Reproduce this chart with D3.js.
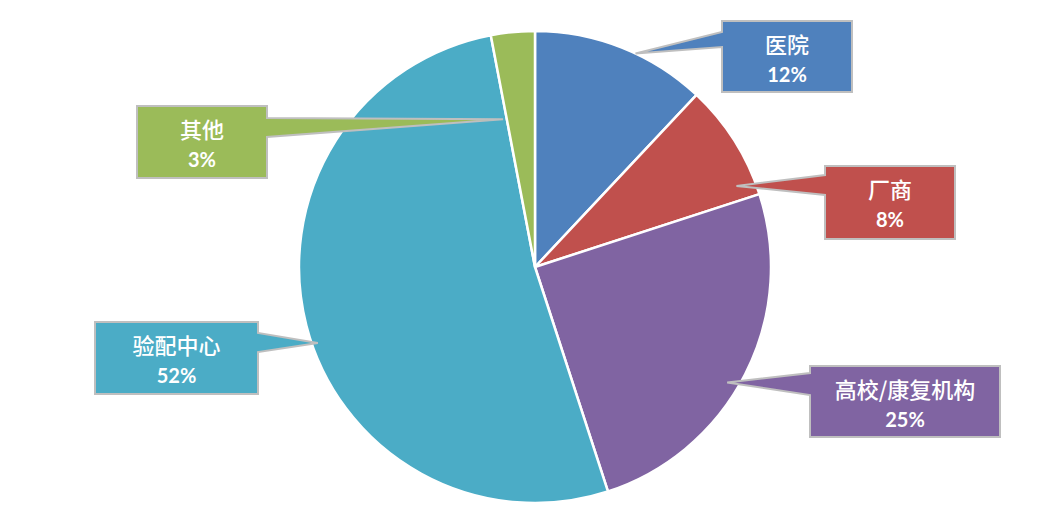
<!DOCTYPE html>
<html><head><meta charset="utf-8">
<script src="https://cdn.jsdelivr.net/npm/d3@7"></script>
<style>html,body{margin:0;padding:0;background:#fff;}svg{display:block;}</style>
</head><body>
<svg id="chart" width="1061" height="523"></svg>
<script>
const categories = ["医院", "厂商", "高校/康复机构", "验配中心", "其他"];
const values = [12, 8, 25, 52, 3];
const percentLabels = ["12%", "8%", "25%", "52%", "3%"];
const colors = ["#4F81BD", "#C0504D", "#8064A2", "#4BACC6", "#9BBB59"];

// callout layout: box (x,y,w,h), side of pointer, pointer base (y from box top), tip polar (angle deg, radius fraction)
const calloutLayout = [
  {x: 722, y: 21, w: 130, h: 71, side: "left", b0: 11, b1: 26, ang: 25.2, rf: 1.0},
  {x: 825, y: 166, w: 130, h: 73, side: "left", b0: 9, b1: 29, ang: 68.1, rf: 0.92},
  {x: 810, y: 366, w: 190, h: 71, side: "left", b0: 7, b1: 29, ang: 121, rf: 0.95},
  {x: 95, y: 322, w: 163, h: 72, side: "right", b0: 11, b1: 30, ang: 250.7, rf: 0.975},
  {x: 137, y: 106, w: 130, h: 72, side: "right", b0: 12, b1: 31, ang: 347.8, rf: 0.64}
];

const svg = d3.select("#chart");
const cx = 535, cy = 267, R = 236;
const g = svg.append("g").attr("transform", `translate(${cx},${cy})`);

const pie = d3.pie().sort(null).value(d => d)(values);
const arc = d3.arc().innerRadius(0).outerRadius(R);

g.selectAll("path.slice").data(pie).enter().append("path")
  .attr("class", "slice")
  .attr("d", arc)
  .attr("fill", (d, i) => colors[i])
  .attr("stroke", "#fff")
  .attr("stroke-width", 2.5)
  .attr("stroke-linejoin", "round");

const labels = svg.append("g");
calloutLayout.forEach((L, i) => {
  const a = L.ang * Math.PI / 180;
  const tx = cx + R * L.rf * Math.sin(a);
  const ty = cy - R * L.rf * Math.cos(a);
  const x0 = L.x, y0 = L.y, x1 = L.x + L.w, y1 = L.y + L.h;
  let p;
  if (L.side === "left") {
    p = `M${x0},${y0} L${x1},${y0} L${x1},${y1} L${x0},${y1} L${x0},${y0 + L.b1} L${tx},${ty} L${x0},${y0 + L.b0} Z`;
  } else {
    p = `M${x0},${y0} L${x1},${y0} L${x1},${y0 + L.b0} L${tx},${ty} L${x1},${y0 + L.b1} L${x1},${y1} L${x0},${y1} Z`;
  }
  labels.append("path").attr("d", p)
    .attr("fill", colors[i])
    .attr("stroke", "#BFBFBF")
    .attr("stroke-width", 2)
    .attr("stroke-linejoin", "miter");
  const mx = L.x + L.w / 2;
  labels.append("text").attr("x", mx).attr("y", L.y + 22)
    .attr("text-anchor", "middle").attr("dominant-baseline", "central")
    .attr("fill", "#fff")
    .style("font-family", "'Noto Sans CJK SC', sans-serif")
    .style("font-weight", 500)
    .style("font-size", "22px")
    .text(categories[i]);
  labels.append("text").attr("x", mx).attr("y", L.y + 53)
    .attr("text-anchor", "middle").attr("dominant-baseline", "central")
    .attr("fill", "#fff")
    .style("font-family", "Lato, 'Open Sans', sans-serif")
    .style("font-weight", "bold")
    .style("font-size", "20px")
    .text(percentLabels[i]);
});
</script>
</body></html>
